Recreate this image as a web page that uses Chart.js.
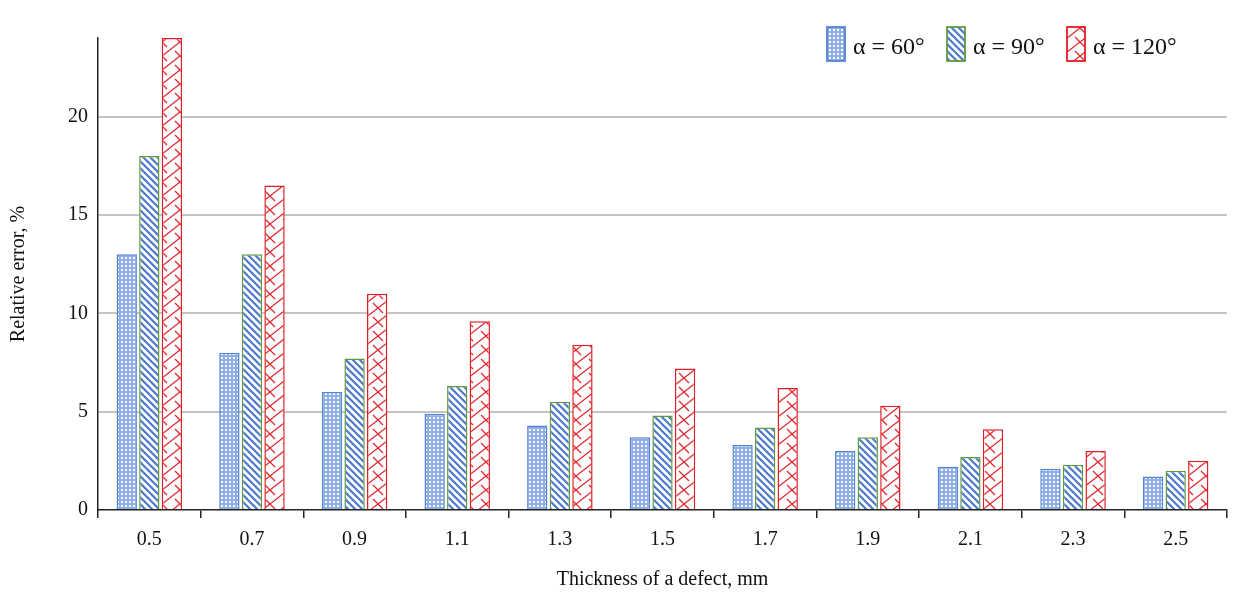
<!DOCTYPE html>
<html>
<head>
<meta charset="utf-8">
<script src="https://cdn.jsdelivr.net/npm/chart.js@4/dist/chart.umd.min.js"></script>
<style>
  html, body { margin: 0; padding: 0; background: #fff; }
  #wrap { width: 1234px; height: 606px; }
</style>
</head>
<body>
<div id="wrap"><canvas id="errChart" width="1234" height="606"></canvas></div>
<script>
// thickness of defect, mm
const thickness = ["0.5", "0.7", "0.9", "1.1", "1.3", "1.5", "1.7", "1.9", "2.1", "2.3", "2.5"];

// relative error, % for each angle
const alpha60 = [13.0, 8.0, 6.0, 4.9, 4.3, 3.7, 3.3, 3.0, 2.2, 2.1, 1.7];
const alpha90 = [18.0, 13.0, 7.7, 6.3, 5.5, 4.8, 4.2, 3.7, 2.7, 2.3, 2.0];
const alpha120 = [24.0, 16.5, 11.0, 9.6, 8.4, 7.2, 6.2, 5.3, 4.1, 3.0, 2.5];

const seriesNames = ["α = 60°", "α = 90°", "α = 120°"];
const yTicks = [0, 5, 10, 15, 20];

const serif = "'Liberation Serif', 'Times New Roman', serif";

// fill patterns
function makePattern(w, h, drawFn) {
  const c = document.createElement("canvas");
  c.width = w;
  c.height = h;
  const g = c.getContext("2d");
  g.fillStyle = "#fff";
  g.fillRect(0, 0, w, h);
  drawFn(g, w, h);
  return document.getElementById("errChart").getContext("2d").createPattern(c, "repeat");
}

const dotsPattern = makePattern(4, 4, (g) => {
  g.fillStyle = "#8eaee6";
  g.fillRect(0, 0, 4, 4);
  g.fillStyle = "#ffffff";
  g.fillRect(1, 1, 2, 2);
});

const stripePattern = makePattern(7, 7, (g, s) => {
  g.strokeStyle = "#4a7acb";
  g.lineWidth = 2.2;
  g.beginPath();
  g.moveTo(-2, -2); g.lineTo(s + 2, s + 2);
  g.moveTo(-2, s - 2); g.lineTo(2, s + 2);
  g.moveTo(s - 2, -2); g.lineTo(s + 2, 2);
  g.stroke();
});

const zigPattern = makePattern(18, 14, (g, w, h) => {
  g.strokeStyle = "#e0262e";
  g.lineWidth = 1.3;
  g.beginPath();
  g.moveTo(0, h); g.lineTo(w, 0);
  g.moveTo(0, 0); g.lineTo(5, 5);
  g.moveTo(w - 5, h - 5); g.lineTo(w, h);
  g.stroke();
});

const fills = [dotsPattern, stripePattern, zigPattern];
const borders = ["#5283d4", "#5f9a3f", "#e21d26"];

// legend drawn inside the plot, top right
const innerLegend = {
  id: "innerLegend",
  afterDraw(chart) {
    const ctx = chart.ctx;
    const xs = [827, 947, 1067];
    const y = 27;
    ctx.save();
    ctx.font = "24px " + serif;
    ctx.textBaseline = "alphabetic";
    chart.data.datasets.forEach((ds, i) => {
      ctx.fillStyle = ds.backgroundColor;
      ctx.fillRect(xs[i], y, 18, 34);
      ctx.strokeStyle = ds.borderColor;
      ctx.lineWidth = 1.8;
      ctx.strokeRect(xs[i], y, 18, 34);
      ctx.fillStyle = "#111";
      ctx.fillText(ds.label, xs[i] + 26, y + 27);
    });
    ctx.restore();
  },
};

const barData = [alpha60, alpha90, alpha120];

new Chart(document.getElementById("errChart"), {
  type: "bar",
  data: {
    labels: thickness,
    datasets: barData.map((vals, i) => ({
      label: seriesNames[i],
      data: vals,
      backgroundColor: fills[i],
      borderColor: borders[i],
      borderWidth: 1.5,
      categoryPercentage: 0.66,
      barPercentage: 0.9,
    })),
  },
  options: {
    responsive: false,
    animation: false,
    layout: { padding: { left: 0, right: 7, top: 38, bottom: 0 } },
    plugins: {
      legend: { display: false },
      tooltip: { enabled: false },
    },
    scales: {
      x: {
        grid: {
          offset: true,
          drawOnChartArea: false,
          drawTicks: true,
          tickLength: 8,
          color: "#222",
          lineWidth: 1.5,
        },
        border: { color: "#222", width: 1.5 },
        ticks: {
          color: "#111",
          font: { family: serif, size: 20 },
          padding: 10,
          maxRotation: 0,
        },
        title: {
          display: true,
          text: "Thickness of a defect, mm",
          color: "#111",
          font: { family: serif, size: 20 },
          padding: { top: 24, bottom: 14 },
        },
        afterFit(scale) {
          scale.height = 96;
        },
      },
      y: {
        min: 0,
        max: 24,
        afterBuildTicks(scale) {
          scale.ticks = yTicks.map((v) => ({ value: v }));
        },
        grid: {
          drawTicks: false,
          color: (c) => (c.tick && c.tick.value === 0 ? "rgba(0,0,0,0)" : "#c4c4c4"),
          lineWidth: 2,
        },
        border: { color: "#222", width: 1.5 },
        ticks: {
          color: "#111",
          font: { family: serif, size: 20 },
          padding: 10,
        },
        title: {
          display: true,
          text: "Relative error, %",
          color: "#111",
          font: { family: serif, size: 20 },
          padding: { top: 7, bottom: 7 },
        },
        afterFit(scale) {
          scale.width = 98;
        },
      },
    },
  },
  plugins: [innerLegend],
});
</script>
</body>
</html>
